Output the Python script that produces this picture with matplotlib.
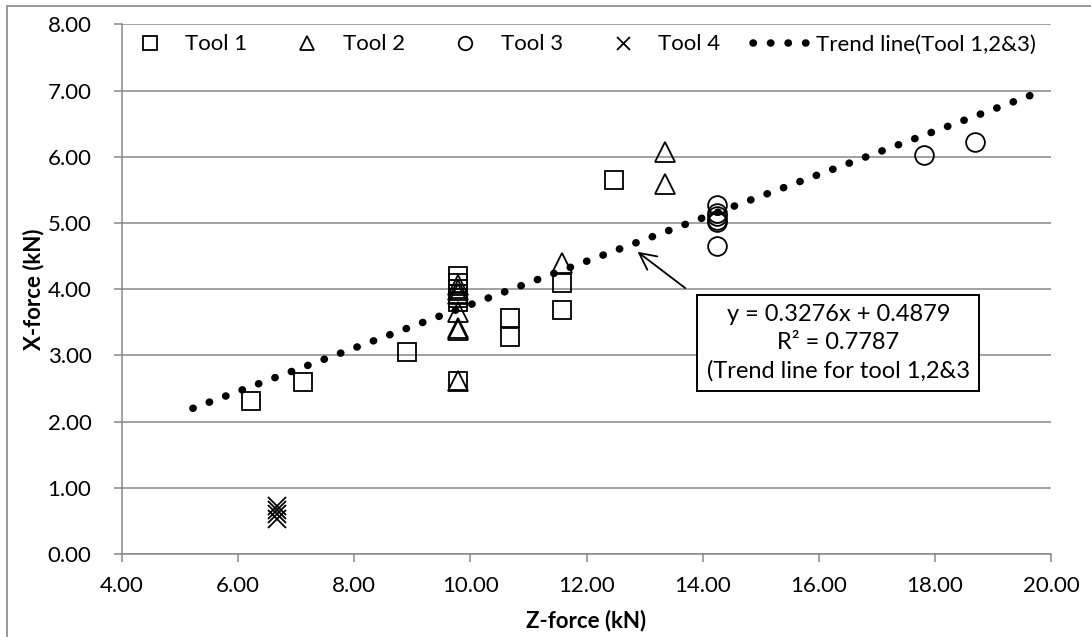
import matplotlib
matplotlib.use("Agg")
import matplotlib.pyplot as plt
from matplotlib.patches import Rectangle

plt.rcParams['font.family'] = ['Lato', 'DejaVu Sans']
plt.rcParams['font.size'] = 16

# Z-force (kN) / X-force (kN)
tool1_z = [6.22, 7.12, 8.90, 9.79, 9.79, 9.79, 9.79, 9.79, 9.79, 9.79,
           10.69, 10.69, 11.58, 11.58, 12.47]
tool1_x = [2.31, 2.60, 3.05, 4.20, 4.10, 4.00, 3.93, 3.87, 3.80, 2.61,
           3.57, 3.27, 4.10, 3.68, 5.65]

tool2_z = [9.79, 9.79, 9.79, 9.79, 9.79, 9.79, 9.79, 11.58, 13.36, 13.36]
tool2_x = [4.07, 3.98, 3.92, 3.65, 3.42, 3.38, 2.61, 4.39, 6.07, 5.59]

tool3_z = [14.25, 14.25, 14.25, 14.25, 14.25, 14.25, 17.82, 18.69]
tool3_x = [5.27, 5.15, 5.10, 5.05, 5.02, 4.65, 6.03, 6.22]

tool4_z = [6.67, 6.67, 6.67, 6.67]
tool4_x = [0.73, 0.66, 0.60, 0.53]

# trend line (tool 1,2&3) end points
trend_z = [5.22, 19.69]
trend_x = [2.20, 6.94]

eq_text = "y = 0.3276x + 0.4879\nR² = 0.7787\n(Trend line for tool 1,2&3"

grey = '#878787'

fig = plt.figure(figsize=(10.91, 6.37), dpi=100)
ax = fig.add_axes([122 / 1091, 83 / 637, 929 / 1091, 529.7 / 637])

mk = dict(linestyle='none', markerfacecolor='none', markeredgecolor='black',
          markeredgewidth=1.3)
ax.plot(tool1_z, tool1_x, marker='s', markersize=13.5, label='Tool 1', **mk)
ax.plot(tool2_z, tool2_x, marker='^', markersize=14, label='Tool 2', **mk)
ax.plot(tool3_z, tool3_x, marker='o', markersize=13.5, label='Tool 3', **mk)
ax.plot(tool4_z, tool4_x, marker='x', markersize=13, label='Tool 4', **mk)
ax.plot(trend_z, trend_x, color='black', linewidth=5.4, linestyle=(0, (0.05, 2.285)),
        dash_capstyle='round', solid_capstyle='round',
        label='Trend line(Tool 1,2&3)')

ax.set_xlim(4, 20)
ax.set_ylim(0, 8)
ax.set_xticks([4, 6, 8, 10, 12, 14, 16, 18, 20])
ax.set_yticks([0, 1, 2, 3, 4, 5, 6, 7, 8])
ax.xaxis.set_major_formatter(matplotlib.ticker.FormatStrFormatter('%.2f'))
ax.yaxis.set_major_formatter(matplotlib.ticker.FormatStrFormatter('%.2f'))

ax.grid(axis='y', color=grey, linewidth=1.1)
ax.set_axisbelow(True)
for s in ['top', 'right']:
    ax.spines[s].set_visible(False)
for s in ['left', 'bottom']:
    ax.spines[s].set_color(grey)
    ax.spines[s].set_linewidth(1.1)
ax.tick_params(axis='both', direction='out', length=6, width=1.1, color=grey,
               labelsize=16)
ax.tick_params(axis='y', pad=16)
ax.tick_params(axis='x', pad=9.5)

ax.set_xlabel('Z-force (kN)', fontweight='bold', fontsize=16, labelpad=10)
ax.set_ylabel('X-force (kN)', fontweight='bold', fontsize=16, labelpad=2)

ax.legend(loc='center left', bbox_to_anchor=(0.0, 0.962), ncol=5, frameon=False,
          handlelength=2.5, handletextpad=0.35, columnspacing=1.45,
          markerscale=0.72, borderaxespad=0, borderpad=0, fontsize=16)

ax.annotate('', xy=(12.84, 4.59), xytext=(13.74, 3.99),
            arrowprops=dict(arrowstyle='->', color='black', lw=1.3,
                            mutation_scale=30))
ax.text(16.34, 3.19, eq_text, ha='center', va='center', multialignment='center',
        fontsize=17, linespacing=1.38,
        bbox=dict(boxstyle='square,pad=0.4', facecolor='white',
                  edgecolor='black', linewidth=1.4))

fig.patches.append(Rectangle((7 / 1091, -0.1), 1.2, 1.1 - 6 / 637,
                             transform=fig.transFigure, fill=False,
                             edgecolor=grey, linewidth=1.2))

fig.savefig('out.png', dpi=100)
